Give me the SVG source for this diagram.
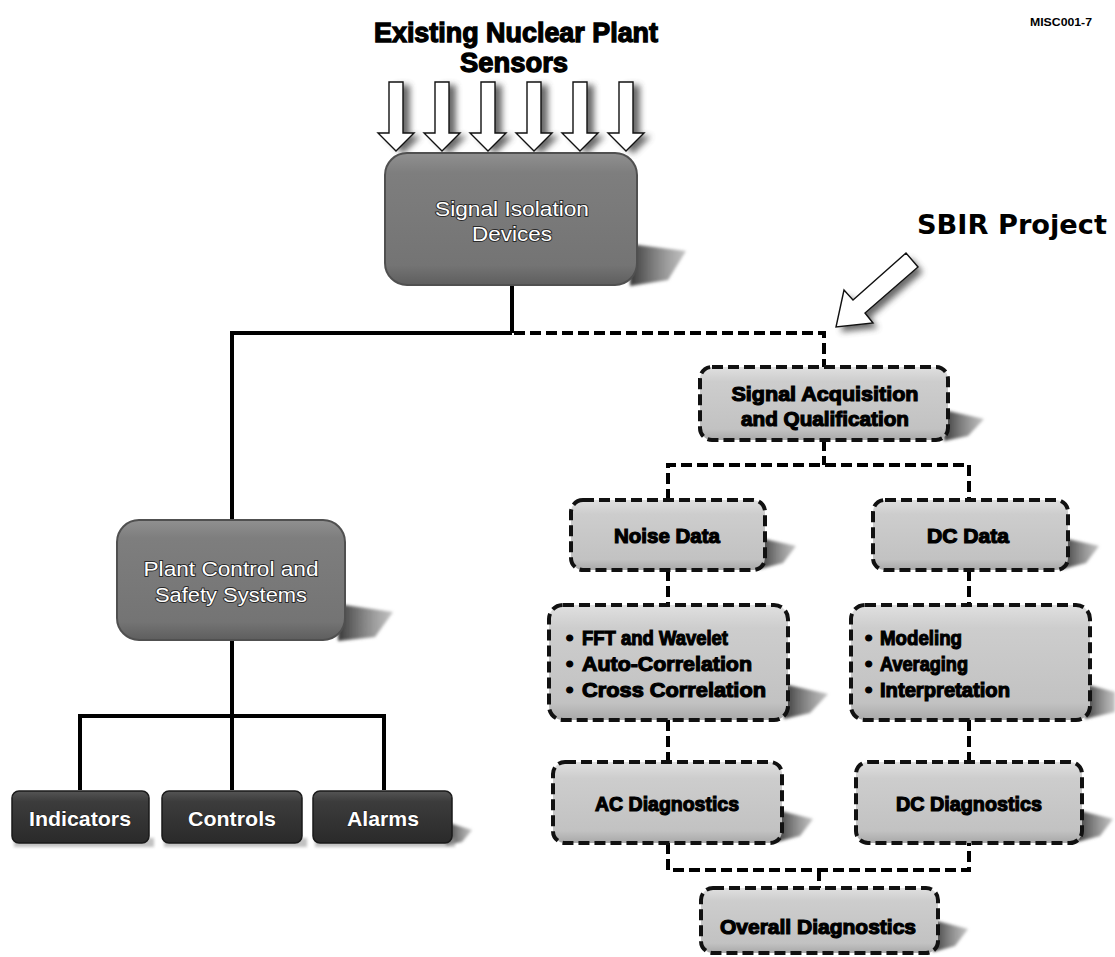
<svg xmlns="http://www.w3.org/2000/svg" width="1115" height="957" viewBox="0 0 1115 957">
<defs>
<linearGradient id="gg" x1="0" y1="0" x2="0" y2="1">
<stop offset="0" stop-color="#909090"/><stop offset="0.15" stop-color="#7e7e7e"/><stop offset="0.85" stop-color="#747474"/><stop offset="1" stop-color="#5e5e5e"/>
</linearGradient>
<linearGradient id="kg" x1="0" y1="0" x2="0" y2="1">
<stop offset="0" stop-color="#555"/><stop offset="0.2" stop-color="#3c3c3c"/><stop offset="1" stop-color="#2a2a2a"/>
</linearGradient>
<linearGradient id="lg" x1="0" y1="0" x2="0" y2="1">
<stop offset="0" stop-color="#e0e0e0"/><stop offset="0.2" stop-color="#cdcdcd"/><stop offset="0.85" stop-color="#c2c2c2"/><stop offset="1" stop-color="#a8a8a8"/>
</linearGradient>
<linearGradient id="shg" x1="0" y1="0" x2="1" y2="0">
<stop offset="0" stop-color="#3a3a3a"/><stop offset="1" stop-color="#9a9a9a" stop-opacity="0.6"/>
</linearGradient>
<filter id="blur" x="-30%" y="-30%" width="160%" height="160%"><feGaussianBlur stdDeviation="1.5"/></filter>
<filter id="ablur" x="-50%" y="-20%" width="200%" height="140%"><feGaussianBlur stdDeviation="3"/></filter>
<style>
.gbox{fill:url(#gg);stroke:#505050;stroke-width:2}
.kbox{fill:url(#kg);stroke:#1a1a1a;stroke-width:1.5}
.dbox{fill:url(#lg);stroke:#111;stroke-width:4;stroke-dasharray:11 5}
.sh{fill:url(#shg);filter:url(#blur)}
.lbl{font-family:"Liberation Sans",Arial,sans-serif;font-weight:bold;font-size:21px;fill:#000;stroke:#000;stroke-width:1.2;text-anchor:middle}
.blt{font-family:"Liberation Sans",Arial,sans-serif;font-weight:bold;font-size:21px;fill:#000;stroke:#000;stroke-width:1.2}
.wt{font-family:"Liberation Sans",Arial,sans-serif;font-size:21px;fill:#fff;stroke:#2a2a2a;stroke-width:1.8;paint-order:stroke;text-anchor:middle}
.wb{font-family:"Liberation Sans",Arial,sans-serif;font-weight:bold;font-size:21px;fill:#fff;stroke:#1a1a1a;stroke-width:1;paint-order:stroke;text-anchor:middle}
.ttl{font-family:"Liberation Sans",Arial,sans-serif;font-weight:bold;font-size:28px;fill:#000;stroke:#000;stroke-width:1.3;text-anchor:middle}
.solid{fill:none;stroke:#000;stroke-width:4}
.dash{fill:none;stroke:#000;stroke-width:4;stroke-dasharray:11 5}
.arr{fill:#fff;stroke:#111;stroke-width:1.4}
.ash{fill:#444;opacity:0.8;filter:url(#ablur)}
</style>
</defs>
<rect width="1115" height="957" fill="#fff"/>

<text x="1061" y="26" font-family="Liberation Sans, Arial, sans-serif" font-weight="bold" font-size="11" text-anchor="middle" textLength="62" lengthAdjust="spacingAndGlyphs">MISC001-7</text>

<g id="title">
<text class="ttl" x="516" y="42" textLength="284" lengthAdjust="spacingAndGlyphs">Existing Nuclear Plant</text>
<text class="ttl" x="514" y="72" textLength="108" lengthAdjust="spacingAndGlyphs">Sensors</text>
</g>

<g id="sensor-arrows">
<g transform="translate(396,0)"><polygon class="ash" transform="translate(7,3)" points="-7,82 7,82 7,133 18,133 0,151 -18,133 -7,133"/><polygon class="arr" points="-7,82 7,82 7,133 18,133 0,151 -18,133 -7,133"/></g>
<g transform="translate(442,0)"><polygon class="ash" transform="translate(7,3)" points="-7,82 7,82 7,133 18,133 0,151 -18,133 -7,133"/><polygon class="arr" points="-7,82 7,82 7,133 18,133 0,151 -18,133 -7,133"/></g>
<g transform="translate(488,0)"><polygon class="ash" transform="translate(7,3)" points="-7,82 7,82 7,133 18,133 0,151 -18,133 -7,133"/><polygon class="arr" points="-7,82 7,82 7,133 18,133 0,151 -18,133 -7,133"/></g>
<g transform="translate(534,0)"><polygon class="ash" transform="translate(7,3)" points="-7,82 7,82 7,133 18,133 0,151 -18,133 -7,133"/><polygon class="arr" points="-7,82 7,82 7,133 18,133 0,151 -18,133 -7,133"/></g>
<g transform="translate(580,0)"><polygon class="ash" transform="translate(7,3)" points="-7,82 7,82 7,133 18,133 0,151 -18,133 -7,133"/><polygon class="arr" points="-7,82 7,82 7,133 18,133 0,151 -18,133 -7,133"/></g>
<g transform="translate(626,0)"><polygon class="ash" transform="translate(7,3)" points="-7,82 7,82 7,133 18,133 0,151 -18,133 -7,133"/><polygon class="arr" points="-7,82 7,82 7,133 18,133 0,151 -18,133 -7,133"/></g>
</g>

<g id="sbir">
<text x="1012" y="234" font-family="DejaVu Sans, Verdana, sans-serif" font-weight="bold" font-size="26" text-anchor="middle" textLength="190" lengthAdjust="spacingAndGlyphs">SBIR Project</text>
<polygon class="ash" transform="translate(5,5)" points="906,253 853,300 844,290 836,327 873,323 865,313 918,267"/>
<polygon class="arr" points="906,253 853,300 844,290 836,327 873,323 865,313 918,267"/>
</g>

<g id="connectors">
<polyline class="solid" points="512,285 512,333"/>
<polyline class="solid" points="512,333 232,333 232,520"/>
<polyline class="solid" points="232,640 232,790"/>
<polyline class="solid" points="80,790 80,716 384,716 384,790"/>
<polyline class="dash" points="514,333 824,333 824,367"/>
<polyline class="dash" points="824,440 824,465"/>
<polyline class="dash" points="668,500 668,465 969,465 969,500"/>
<polyline class="dash" points="668,570 668,605"/>
<polyline class="dash" points="969,570 969,605"/>
<polyline class="dash" points="668,720 668,762"/>
<polyline class="dash" points="969,720 969,762"/>
<polyline class="dash" points="668,843 668,870 969,870 969,843"/>
<polyline class="dash" points="819,870 819,888"/>
</g>

<g id="signal-isolation">
<polygon class="sh" points="630,244 686,251 668,280 630,286"/>
<rect class="gbox" x="385" y="153" width="252" height="132" rx="22"/>
<text class="wt" x="512" y="216" textLength="154" lengthAdjust="spacingAndGlyphs">Signal Isolation</text>
<text class="wt" x="512" y="241" textLength="80" lengthAdjust="spacingAndGlyphs">Devices</text>
</g>

<g id="plant-control">
<polygon class="sh" points="338,604 393,612 375,637 338,641"/>
<rect class="gbox" x="117" y="520" width="228" height="120" rx="22"/>
<text class="wt" x="231" y="576" textLength="175" lengthAdjust="spacingAndGlyphs">Plant Control and</text>
<text class="wt" x="231" y="602" textLength="152" lengthAdjust="spacingAndGlyphs">Safety Systems</text>
</g>

<g id="indicators">
<rect x="14" y="838" width="140" height="9" fill="#999" filter="url(#blur)" opacity="0.6"/>
<rect class="kbox" x="12" y="791" width="137" height="52" rx="7"/>
<text class="wb" x="80" y="826" textLength="102" lengthAdjust="spacingAndGlyphs">Indicators</text>
</g>
<g id="controls">
<rect x="164" y="838" width="143" height="9" fill="#999" filter="url(#blur)" opacity="0.6"/>
<rect class="kbox" x="162" y="791" width="140" height="52" rx="7"/>
<text class="wb" x="232" y="826" textLength="88" lengthAdjust="spacingAndGlyphs">Controls</text>
</g>
<g id="alarms">
<polygon class="sh" points="446,822 472,830 462,842 446,845"/>
<rect x="315" y="838" width="140" height="9" fill="#999" filter="url(#blur)" opacity="0.6"/>
<rect class="kbox" x="313" y="791" width="139" height="52" rx="7"/>
<text class="wb" x="383" y="826" textLength="72" lengthAdjust="spacingAndGlyphs">Alarms</text>
</g>

<g id="signal-acquisition">
<polygon class="sh" points="944,410 984,419 968,436 944,441"/>
<rect class="dbox" x="700" y="367" width="248" height="73" rx="12"/>
<text class="lbl" x="825" y="401" textLength="187" lengthAdjust="spacingAndGlyphs">Signal Acquisition</text>
<text class="lbl" x="825" y="426" textLength="168" lengthAdjust="spacingAndGlyphs">and Qualification</text>
</g>

<g id="noise-data">
<polygon class="sh" points="760,538 796,546 783,563 760,569"/>
<rect class="dbox" x="571" y="500" width="194" height="70" rx="12"/>
<text class="lbl" x="667" y="543" textLength="106" lengthAdjust="spacingAndGlyphs">Noise Data</text>
</g>

<g id="dc-data">
<polygon class="sh" points="1063,538 1099,546 1086,563 1063,569"/>
<rect class="dbox" x="873" y="500" width="195" height="70" rx="12"/>
<text class="lbl" x="968" y="543" textLength="82" lengthAdjust="spacingAndGlyphs">DC Data</text>
</g>

<g id="ac-analysis">
<polygon class="sh" points="784,684 828,694 810,713 784,719"/>
<rect class="dbox" x="549" y="605" width="239" height="115" rx="14"/>
<text class="blt" x="566" y="645">•</text>
<text class="blt" x="582" y="645" textLength="146" lengthAdjust="spacingAndGlyphs">FFT and Wavelet</text>
<text class="blt" x="566" y="671">•</text>
<text class="blt" x="582" y="671" textLength="170" lengthAdjust="spacingAndGlyphs">Auto-Correlation</text>
<text class="blt" x="566" y="697">•</text>
<text class="blt" x="582" y="697" textLength="184" lengthAdjust="spacingAndGlyphs">Cross Correlation</text>
</g>

<g id="dc-analysis">
<polygon class="sh" points="1085,684 1115,692 1115,712 1085,719"/>
<rect class="dbox" x="851" y="605" width="239" height="115" rx="14"/>
<text class="blt" x="865" y="645">•</text>
<text class="blt" x="880" y="645" textLength="82" lengthAdjust="spacingAndGlyphs">Modeling</text>
<text class="blt" x="865" y="671">•</text>
<text class="blt" x="880" y="671" textLength="88" lengthAdjust="spacingAndGlyphs">Averaging</text>
<text class="blt" x="865" y="697">•</text>
<text class="blt" x="880" y="697" textLength="130" lengthAdjust="spacingAndGlyphs">Interpretation</text>
</g>

<g id="ac-diagnostics">
<polygon class="sh" points="777,810 813,819 800,836 777,842"/>
<rect class="dbox" x="553" y="762" width="229" height="81" rx="12"/>
<text class="lbl" x="667" y="811" textLength="144" lengthAdjust="spacingAndGlyphs">AC Diagnostics</text>
</g>

<g id="dc-diagnostics">
<polygon class="sh" points="1077,810 1113,819 1100,836 1077,842"/>
<rect class="dbox" x="856" y="762" width="226" height="81" rx="12"/>
<text class="lbl" x="969" y="811" textLength="146" lengthAdjust="spacingAndGlyphs">DC Diagnostics</text>
</g>

<g id="overall-diagnostics">
<polygon class="sh" points="933,920 968,929 955,946 933,952"/>
<rect class="dbox" x="701" y="888" width="237" height="65" rx="12"/>
<text class="lbl" x="818" y="934" textLength="196" lengthAdjust="spacingAndGlyphs">Overall Diagnostics</text>
</g>
</svg>
